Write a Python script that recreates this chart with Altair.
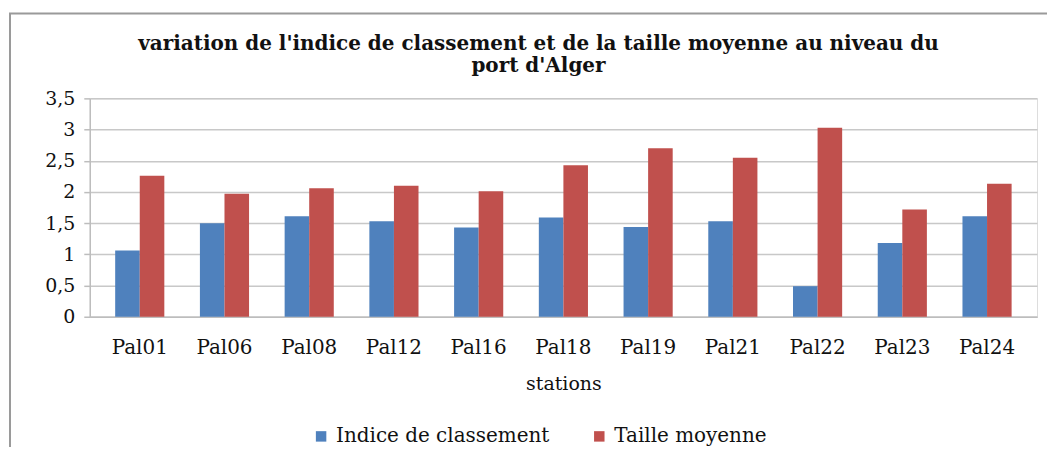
import altair as alt
import pandas as pd

stations = ["Pal01", "Pal06", "Pal08", "Pal12", "Pal16", "Pal18", "Pal19", "Pal21", "Pal22", "Pal23", "Pal24"]
indice = [1.06, 1.50, 1.61, 1.53, 1.43, 1.59, 1.44, 1.53, 0.49, 1.18, 1.61]
taille = [2.26, 1.97, 2.06, 2.10, 2.01, 2.43, 2.70, 2.55, 3.03, 1.72, 2.13]
series = ["Indice de classement", "Taille moyenne"]
colors = ["#4F81BD", "#C0504D"]
y_ticks = [0, 0.5, 1, 1.5, 2, 2.5, 3, 3.5]
title_lines = ["variation de l'indice de classement  et de la taille moyenne au niveau du", "port  d'Alger"]

rows = []
for s, a, b in zip(stations, indice, taille):
    rows.append({"station": s, "serie": series[0], "valeur": a})
    rows.append({"station": s, "serie": series[1], "valeur": b})
df = pd.DataFrame(rows)

FONT = "DejaVu Serif"

bars = alt.Chart(df).mark_bar().encode(
    x=alt.X("station:N", sort=stations, title="stations",
            scale=alt.Scale(paddingInner=0.42, paddingOuter=0.3),
            axis=alt.Axis(labelAngle=0, labelFont=FONT, labelFontSize=20, labelColor="#111",
                          labelPadding=21, titleFont=FONT, titleFontSize=19, titleFontWeight="normal",
                          titleColor="#111", titlePadding=17, ticks=False,
                          domainColor="#bdbdbd", domainWidth=1.5)),
    xOffset=alt.XOffset("serie:N", sort=series, scale=alt.Scale(paddingInner=0, paddingOuter=0)),
    y=alt.Y("valeur:Q", title=None,
            scale=alt.Scale(domain=[0, 3.5], nice=False),
            axis=alt.Axis(values=y_ticks, labelExpr="replace(format(datum.value, '.1~f'), '.', ',')",
                          labelFont=FONT, labelFontSize=19, labelColor="#111", labelPadding=9,
                          ticks=True, tickSize=6, tickColor="#bdbdbd", tickWidth=1.5,
                          domainColor="#bdbdbd", domainWidth=1.5,
                          gridColor="#c8c8c8", gridWidth=1.5)),
    color=alt.Color("serie:N", sort=series, scale=alt.Scale(domain=series, range=colors),
                    legend=alt.Legend(title=None, orient="none", direction="horizontal",
                                      legendX=222, legendY=329, symbolType="square", symbolSize=110,
                                      symbolStrokeWidth=0, labelFont=FONT, labelFontSize=20,
                                      labelColor="#111", columnPadding=40, labelOffset=5,
                                      labelLimit=400)),
)

frame = alt.Chart(pd.DataFrame({"a": [0]})).mark_rect(
    fill=None, stroke="#9a9a9a", strokeWidth=2
).encode(x=alt.value(-80), x2=alt.value(962), y=alt.value(-85), y2=alt.value(360))

title = alt.Chart(pd.DataFrame({"t": [title_lines]})).mark_text(
    font=FONT, fontSize=20, fontWeight="bold", color="#111", align="center",
    baseline="middle", lineHeight=23
).encode(text="t:N", x=alt.value(450), y=alt.value(-55))

chart = alt.layer(frame, title, bars).properties(
    width=950, height=219,
    padding={"left": 82, "top": 90, "right": 10, "bottom": 130},
    autosize=alt.AutoSizeParams(type="none"),
).configure_view(stroke=None).configure(background="white")

chart.save("out.html", embed_options={"renderer": "svg", "actions": False})
